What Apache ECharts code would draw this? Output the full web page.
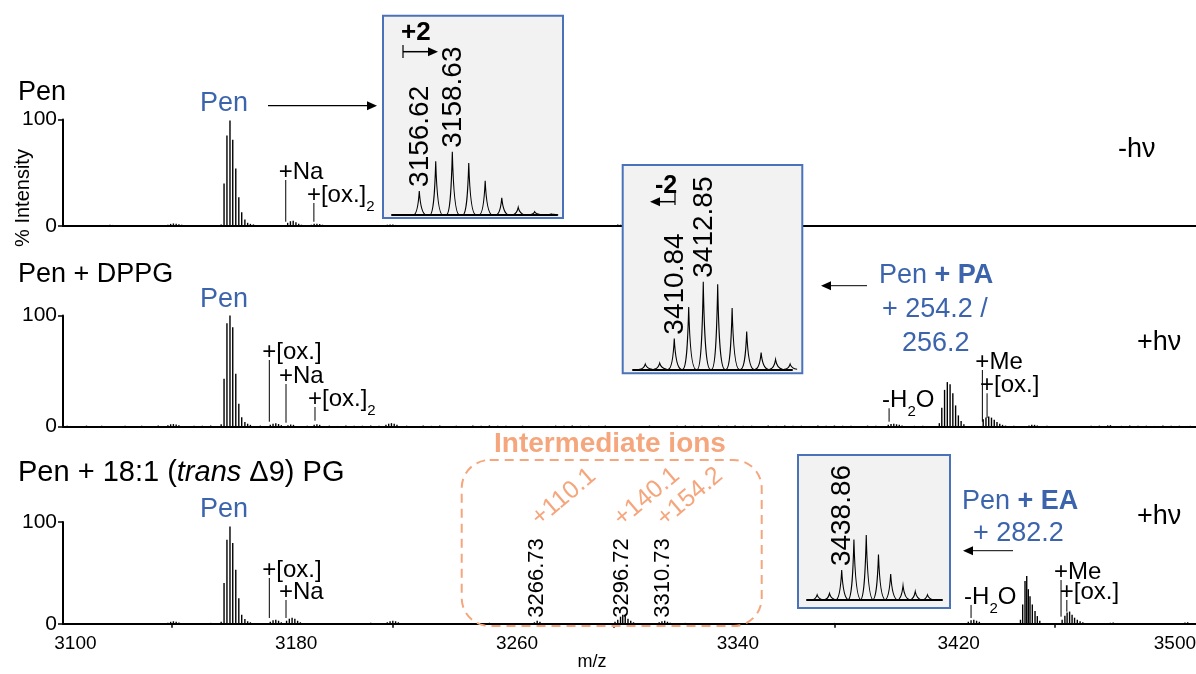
<!DOCTYPE html>
<html>
<head>
<meta charset="utf-8">
<script src="https://cdn.jsdelivr.net/npm/echarts@6/dist/echarts.min.js"></script>
<style>
  html, body { margin: 0; padding: 0; background: #fff; }
  #chart { width: 1196px; height: 674px; }
</style>
</head>
<body>
<div id="chart"></div>
<script>
// ---- data ----
const xTickLabels = [3100, 3180, 3260, 3340, 3420, 3500];
const xTickMarks = [3135, 3215, 3295, 3375, 3455];
const panelTitles = ['Pen', 'Pen + DPPG', 'Pen + 18:1 ({i|trans} Δ9) PG'];
const lightLabels = ['-hν', '+hν', '+hν'];

// small baseline noise shared by the three spectra [m/z, %]
const baselineNoise = [
  [3097, 0.6], [3101, 0.4], [3104, 0.8], [3107, 0.5], [3109.5, 0.7], [3118, 0.6], [3121, 0.4], [3124, 0.7],
  [3127, 0.5], [3130, 0.9], [3143, 0.6], [3146, 0.7], [3149, 0.9], [3167, 0.8], [3184, 0.7], [3192, 0.8],
  [3195, 0.5], [3198, 0.9], [3201, 0.6], [3204, 0.7], [3207, 1.0], [3210, 0.6], [3220, 0.7], [3223, 0.4],
  [3226, 0.8], [3229, 0.6], [3232, 0.9], [3235, 0.5], [3238, 0.7], [3241, 0.4], [3244, 0.8], [3247, 0.6],
  [3250, 1.0], [3253, 0.6], [3256, 0.7], [3259, 0.5], [3262, 0.8], [3271, 0.5], [3274, 0.8], [3277, 0.6],
  [3280, 0.9], [3283, 0.6], [3286, 0.7], [3289, 0.5], [3292, 0.8], [3305, 0.5], [3308, 0.8], [3318, 0.6],
  [3321, 0.9], [3324, 0.6], [3327, 0.7], [3330, 0.5], [3333, 0.8], [3336, 0.6], [3339, 0.9], [3342, 0.6],
  [3345, 0.7], [3348, 0.5], [3351, 0.8], [3354, 0.6], [3357, 0.9], [3360, 0.6], [3363, 0.7], [3366, 0.5],
  [3369, 0.8], [3372, 0.6], [3375, 0.9], [3378, 0.6], [3381, 0.7], [3384, 0.5], [3387, 0.8], [3390, 0.6],
  [3404, 0.6], [3407, 0.7], [3410, 0.5], [3437, 0.8], [3440, 0.6], [3452, 0.7], [3468, 0.6], [3471, 0.8],
  [3479, 0.6], [3482, 0.9], [3485, 0.6], [3488, 0.7], [3491, 0.5], [3494, 0.8], [3497, 0.6], [3500, 0.7], [3504, 0.6]
];

// panel 1: Pen, -hv
const peaksPen = [
  [3111.5, 0.8], [3112.5, 1.2], [3113.5, 1.0], [3114.5, 0.7],
  [3133.5, 1.2], [3134.5, 2.0], [3135.5, 2.4], [3136.5, 2.0], [3137.5, 1.6], [3138.5, 1.2], [3139.5, 0.8],
  [3152.8, 1.5], [3153.85, 40], [3154.9, 85], [3156.0, 99], [3157.0, 81], [3158.1, 54], [3159.2, 27],
  [3160.25, 13], [3161.4, 6], [3162.4, 3], [3163.4, 2], [3164.5, 1.5], [3165.5, 1],
  [3176.9, 3], [3177.9, 4.5], [3178.9, 5], [3179.9, 3.5], [3180.9, 2], [3181.9, 1.2],
  [3185.5, 1.2], [3186.5, 2], [3187.5, 2.2], [3188.5, 1.8], [3189.5, 1.2],
  [3213, 1.2], [3214, 1.5], [3215, 1.3], [3216, 1.0], [3295.5, 1.0], [3296.5, 1.4], [3297.5, 1.2]
];
// panel 2: Pen + DPPG, +hv
const peaksDPPG = [
  [3133.5, 1.2], [3134.5, 2], [3135.5, 2.2], [3136.5, 1.8], [3137.5, 1.2],
  [3152.8, 2], [3153.85, 43], [3154.9, 93], [3156.0, 100], [3157.0, 89.5], [3158.1, 47.5], [3159.2, 20.5],
  [3160.25, 8.4], [3161.4, 4], [3162.4, 2.5], [3163.4, 1.5],
  [3170.6, 1.5], [3171.6, 2.5], [3172.6, 3], [3173.6, 2.2], [3174.6, 1.2],
  [3177, 1.2], [3178, 1.8], [3179, 1.5], [3186.5, 1.5], [3187.5, 2], [3188.5, 1.5],
  [3212.5, 1.5], [3213.5, 2.5], [3214.5, 3], [3215.5, 2.5], [3216.5, 1.5],
  [3394.5, 1.5], [3395.5, 2.2], [3396.5, 2.5], [3397.5, 2], [3398.5, 1.5], [3399.5, 1],
  [3413.0, 3], [3413.9, 17], [3414.9, 33], [3415.9, 40], [3416.9, 38], [3417.9, 30], [3418.9, 19],
  [3419.9, 10], [3420.9, 5], [3421.9, 2],
  [3428.9, 6.6], [3429.9, 8], [3430.9, 9], [3431.9, 8], [3432.9, 6], [3433.9, 4], [3434.9, 2.5], [3435.9, 1.5],
  [3445.5, 1], [3446.5, 1.5], [3447.5, 1.5], [3448.5, 1], [3474, 1], [3475, 1.2]
];
// panel 3: Pen + 18:1 (trans d9) PG, +hv
const peaksTransPG = [
  [3133.5, 1], [3134.5, 2], [3135.5, 2.5], [3136.5, 2], [3137.5, 1.2],
  [3152.8, 2], [3153.85, 40], [3154.9, 82.5], [3156.0, 95.6], [3157.0, 79.3], [3158.1, 53], [3159.2, 25.2],
  [3160.25, 8.8], [3161.4, 4.6], [3162.4, 2.5], [3163.4, 1.5],
  [3170.6, 2], [3171.6, 3.5], [3172.6, 4], [3173.6, 3], [3174.6, 1.5],
  [3176.5, 3], [3177.5, 5], [3178.5, 6], [3179.5, 5], [3180.5, 3], [3181.5, 1.5],
  [3213, 1.5], [3214, 2.5], [3215, 3], [3216, 2.5], [3217, 1.5],
  [3266.3, 1.5], [3267.3, 3], [3268.3, 2],
  [3295.5, 2], [3296.5, 4], [3297.5, 7], [3298.3, 9], [3299.2, 8], [3300.2, 5], [3301.2, 3], [3302.2, 1.5],
  [3311.5, 1.5], [3312.5, 2.5], [3313.5, 3], [3314.5, 2], [3315.5, 1],
  [3423.5, 2], [3424.5, 3.5], [3425.5, 4], [3426.5, 3], [3427.5, 2],
  [3442.4, 4], [3443.2, 19], [3444.05, 42], [3444.67, 47], [3445.25, 34], [3445.86, 27], [3446.7, 19],
  [3447.68, 12.5], [3448.51, 7.6], [3449.4, 3],
  [3457.5, 4], [3458.5, 8], [3459.3, 11], [3460.2, 12], [3461.1, 9], [3462, 6], [3463, 4], [3464, 2.5], [3465, 1.5],
  [3475, 1], [3476, 1.2], [3502, 1.2], [3503, 1.5]
];

// labelled marker lines [m/z, from %, to %, label]
const annotPen = [
  [3176.2, 4, 43.2, '{n|+Na}'],
  [3186.4, 4, 21.6, '{n|+[ox.]}{s|2}']
];
const annotDPPG = [
  [3170.25, 4.3, 59.9, '{n|+[ox.]}'],
  [3176.3, 3.4, 38.3, '{n|+Na}'],
  [3186.8, 5.2, 17.6, '{n|+[ox.]}{s|2}'],
  [3394.8, 4.3, 16.4, '{n|-H}{s|2}{n|O}'],
  [3428.6, 4.3, 50.9, '{n|+Me}'],
  [3430.3, 7.7, 29.9, '{n|+[ox.]}']
];
const annotTransPG = [
  [3170.25, 5.7, 45, '{n|+[ox.]}'],
  [3176.3, 5.7, 23.4, '{n|+Na}'],
  [3424.5, 5.7, 18.5, '{n|-H}{s|2}{n|O}'],
  [3457.1, 7, 43, '{n|+Me}'],
  [3459.2, 11.9, 23.4, '{n|+[ox.]}']
];

// intermediate ions in panel 3
const ionPositions = [3267.3, 3297.9, 3312.8];
const ionMasses = ['3266.73', '3296.72', '3310.73'];
const ionShifts = ['+110.1', '+140.1', '+154.2'];

// zoomed isotope envelopes [m/z, relative %]
const insetPen = [
  [3156.62, 38], [3157.62, 85], [3158.63, 100], [3159.63, 82], [3160.63, 54],
  [3161.64, 27], [3162.64, 12], [3163.64, 5], [3164.65, 1.6]
];
const insetPenLabels = [3156.62, 3158.63];
const insetPA = [
  [3408.83, 6], [3409.83, 7], [3410.84, 35], [3411.84, 71], [3412.85, 100], [3413.85, 97],
  [3414.85, 70], [3415.86, 43], [3416.86, 19], [3417.86, 11], [3418.87, 6]
];
const insetPALabels = [3410.84, 3412.85];
const insetEA = [
  [3436.85, 8], [3437.86, 10], [3438.86, 46], [3439.86, 93], [3440.87, 100], [3441.87, 70],
  [3442.87, 40], [3443.88, 22], [3444.88, 13], [3445.88, 8]
];
const insetEALabels = [3438.86];

// ---- drawing ----
const FONT = '"Liberation Sans", Arial, sans-serif';
const BLUE = '#3B64AD';
const ORANGE = '#F5A67D';
const FRAME = '#4A72B8';

const chart = echarts.init(document.getElementById('chart'), null, { renderer: 'canvas' });

const annotRich = {
  n: { fontSize: 24, fontFamily: FONT, lineHeight: 38, fill: '#000' },
  s: { fontSize: 15, fontFamily: FONT, lineHeight: 22, verticalAlign: 'bottom', fill: '#000' }
};

function stickItem(params, api) {
  const top = api.coord([api.value(0), api.value(1)]);
  const base = api.coord([api.value(0), 0]);
  return {
    type: 'line',
    shape: { x1: top[0], y1: base[1], x2: top[0], y2: top[1] },
    style: { stroke: '#000', lineWidth: 1.4 }
  };
}

function annotRender(list) {
  return function (params, api) {
    const a = list[params.dataIndex];
    const lo = api.coord([a[0], a[1]]);
    const hi = api.coord([a[0], a[2]]);
    return {
      type: 'group',
      children: [
        { type: 'line', shape: { x1: lo[0], y1: lo[1], x2: hi[0], y2: hi[1] }, style: { stroke: '#000', lineWidth: 1 } },
        {
          type: 'text', x: hi[0] - 7, y: hi[1] - 8,
          style: { text: a[3], rich: annotRich, fontSize: 24, fontFamily: FONT, fill: '#000',
                   align: 'left', verticalAlign: 'middle', textAlign: 'left', textVerticalAlign: 'middle' }
        }
      ]
    };
  };
}

function profileRender(labels) {
  return function (params, api) {
    const mz = api.value(0);
    const apex = api.coord([mz, api.value(1)]);
    const base = api.coord([mz, 0]);
    const ax = apex[0], ay = apex[1], y0 = base[1], h = y0 - ay;
    const d = 'M' + (ax - 6) + ' ' + y0 +
      ' C' + (ax - 1.8) + ' ' + (y0 - 0.3) + ' ' + (ax - 0.7) + ' ' + (ay + h * 0.45) + ' ' + ax + ' ' + ay +
      ' C' + (ax + 0.8) + ' ' + (ay + h * 0.5) + ' ' + (ax + 2.2) + ' ' + (y0 - 0.8) + ' ' + (ax + 7) + ' ' + y0;
    const children = [{ type: 'path', shape: { pathData: d }, style: { stroke: '#000', lineWidth: 1.1, fill: 'none' } }];
    if (labels.indexOf(mz) >= 0) {
      children.push({
        type: 'text', x: ax + 1, y: ay - 4, rotation: Math.PI / 2,
        style: { text: mz.toFixed(2), fontSize: 28, fontFamily: FONT, fill: '#000',
                 align: 'left', verticalAlign: 'middle', textAlign: 'left', textVerticalAlign: 'middle' }
      });
    }
    return { type: 'group', children: children };
  };
}

function ionRender(params, api) {
  const p = api.coord([api.value(0), 6]);
  return {
    type: 'text', x: p[0], y: p[1], rotation: Math.PI / 2,
    style: { text: ionMasses[params.dataIndex], fontSize: 22, fontFamily: FONT, fill: '#000',
             align: 'left', verticalAlign: 'middle', textAlign: 'left', textVerticalAlign: 'middle' }
  };
}

function txt(x, y, text, o) {
  o = o || {};
  return {
    type: 'text', x: x, y: y, z: 15, rotation: o.rotation || 0,
    style: {
      text: text, fill: o.color || '#000', fontSize: o.size || 27, fontFamily: FONT,
      fontWeight: o.weight || 'normal', rich: o.rich,
      align: o.align || 'left', verticalAlign: o.va || 'middle',
      textAlign: o.align || 'left', textVerticalAlign: o.va || 'middle'
    }
  };
}

function arrow(x1, x2, y, headLeft, w) {
  const hx = headLeft ? x1 : x2;
  const dir = headLeft ? 1 : -1;
  return [
    { type: 'line', z: 15, shape: { x1: x1 + (headLeft ? 5 : 0), y1: y, x2: x2 - (headLeft ? 0 : 5), y2: y },
      style: { stroke: '#000', lineWidth: w || 1.2 } },
    { type: 'polygon', z: 15, shape: { points: [[hx, y], [hx + dir * 10, y - 4.5], [hx + dir * 10, y + 4.5]] },
      style: { fill: '#000' } }
  ];
}

const AX_MIN = 3095.5, AX_MAX = 3506;
const panelGrids = [
  { left: 63, width: 1133, top: 119.5, height: 106.5 },
  { left: 63, width: 1133, top: 315.5, height: 111 },
  { left: 63, width: 1133, top: 522, height: 101.8 }
];
const insetGrids = [
  { left: 392, width: 165, top: 151.7, height: 63.3, min: 3154.96, max: 3165.0 },
  { left: 633, width: 159, top: 281.7, height: 87.6, min: 3407.98, max: 3419.0 },
  { left: 807, width: 135, top: 535, height: 65, min: 3436.02, max: 3447.07 }
];

const grid = [], xAxis = [], yAxis = [];
panelGrids.forEach(function (g, i) {
  grid.push({ left: g.left, width: g.width, top: g.top, height: g.height, outerBoundsMode: 'none' });
  xAxis.push({
    type: 'value', gridIndex: i, min: AX_MIN, max: AX_MAX,
    axisLine: { show: true, onZero: true, lineStyle: { color: '#000', width: 2 } },
    axisTick: i === 2 ? { show: true, customValues: xTickMarks, length: 4, lineStyle: { color: '#000', width: 1.5 } } : { show: false },
    axisLabel: i === 2 ? {
      show: true, customValues: xTickLabels, fontSize: 19, fontFamily: FONT, color: '#000', margin: 10,
      // last label is nudged left so it stays inside the canvas
      formatter: function (v) { return v === xTickLabels[xTickLabels.length - 1] ? '{r|' + v + '}' : String(v); },
      rich: { r: { fontSize: 19, fontFamily: FONT, color: '#000', padding: [0, 9, 0, 0] } }
    } : { show: false },
    splitLine: { show: false }
  });
  yAxis.push({
    type: 'value', gridIndex: i, min: 0, max: 100, interval: 100,
    axisLine: { show: true, lineStyle: { color: '#000', width: 2 } },
    axisTick: { show: true, length: 5, lineStyle: { color: '#000', width: 1.5 } },
    axisLabel: { fontSize: 21, fontFamily: FONT, color: '#000', margin: 6 },
    splitLine: { show: false }
  });
});
insetGrids.forEach(function (g, k) {
  const i = k + 3;
  grid.push({ left: g.left, width: g.width, top: g.top, height: g.height, outerBoundsMode: 'none' });
  xAxis.push({
    type: 'value', gridIndex: i, min: g.min, max: g.max, z: 12,
    axisLine: { show: true, onZero: true, lineStyle: { color: '#000', width: 2 } },
    axisTick: { show: false }, axisLabel: { show: false }, splitLine: { show: false }
  });
  yAxis.push({ type: 'value', gridIndex: i, min: 0, max: 100, show: false });
});

const series = [];
[peaksPen, peaksDPPG, peaksTransPG].forEach(function (pk, i) {
  series.push({
    type: 'custom', xAxisIndex: i, yAxisIndex: i, z: 2, silent: true,
    renderItem: stickItem, encode: { x: 0, y: 1 },
    data: baselineNoise.concat(pk)
  });
});
[annotPen, annotDPPG, annotTransPG].forEach(function (an, i) {
  series.push({
    type: 'custom', xAxisIndex: i, yAxisIndex: i, z: 3, silent: true,
    renderItem: annotRender(an), encode: { x: 0, y: 1 },
    data: an.map(function (a) { return [a[0], a[1], a[2]]; })
  });
});
series.push({
  type: 'custom', xAxisIndex: 2, yAxisIndex: 2, z: 3, silent: true,
  renderItem: ionRender, encode: { x: 0 },
  data: ionPositions.map(function (m) { return [m]; })
});
[[insetPen, insetPenLabels], [insetPA, insetPALabels], [insetEA, insetEALabels]].forEach(function (p, k) {
  series.push({
    type: 'custom', xAxisIndex: k + 3, yAxisIndex: k + 3, z: 12, silent: true,
    renderItem: profileRender(p[1]), encode: { x: 0, y: 1 },
    data: p[0]
  });
});

const boldRich = {
  n: { fontSize: 27, fontFamily: FONT, fill: BLUE },
  b: { fontSize: 27, fontFamily: FONT, fill: BLUE, fontWeight: 'bold' }
};
const titleRich = {
  i: { fontSize: 29, fontFamily: FONT, fontStyle: 'italic', fill: '#000' }
};

const elements = [
  // inset frames
  { type: 'rect', z: 10, shape: { x: 383, y: 15.7, width: 180, height: 202.3 }, style: { fill: '#F2F2F2', stroke: FRAME, lineWidth: 2 } },
  { type: 'rect', z: 10, shape: { x: 622.7, y: 165, width: 179.6, height: 208.3 }, style: { fill: '#F2F2F2', stroke: FRAME, lineWidth: 2 } },
  { type: 'rect', z: 10, shape: { x: 798, y: 455, width: 152, height: 153 }, style: { fill: '#F2F2F2', stroke: FRAME, lineWidth: 2 } },
  // intermediate ion box
  { type: 'rect', z: 1, shape: { x: 461.7, y: 460, width: 300, height: 166, r: 28 },
    style: { fill: 'none', stroke: ORANGE, lineWidth: 2, lineDash: [9, 6] } },
  txt(610, 444, 'Intermediate ions', { color: ORANGE, weight: 'bold', size: 28, align: 'center' }),
  txt(23, 198, '% Intensity', { size: 20, align: 'center', rotation: Math.PI / 2 }),
  txt(592, 662, 'm/z', { size: 18, align: 'center' }),
  // panel titles and light labels
  txt(18, 93, panelTitles[0]),
  txt(18, 275, panelTitles[1]),
  txt(18, 473, panelTitles[2], { rich: titleRich, size: 29 }),
  txt(1118, 150, lightLabels[0]),
  txt(1137, 343, lightLabels[1]),
  txt(1137, 517, lightLabels[2]),
  txt(200, 104, 'Pen', { color: BLUE }),
  txt(200, 300, 'Pen', { color: BLUE }),
  txt(200, 510, 'Pen', { color: BLUE }),
  // lipid adduct labels
  txt(879, 276, '{n|Pen }{b|+ PA}', { rich: boldRich, color: BLUE }),
  txt(882, 310, '+ 254.2 /', { color: BLUE }),
  txt(902, 344, '256.2', { color: BLUE }),
  txt(962, 502, '{n|Pen }{b|+ EA}', { rich: boldRich, color: BLUE }),
  txt(973, 534, '+ 282.2', { color: BLUE }),
  // charge shifts
  txt(401, 33, '+2', { weight: 'bold', size: 26 }),
  txt(655, 186, '-2', { weight: 'bold', size: 25 }),
  { type: 'line', z: 15, shape: { x1: 675, y1: 192, x2: 675, y2: 205 }, style: { stroke: '#000', lineWidth: 1.2 } },
  { type: 'line', z: 15, shape: { x1: 403, y1: 45, x2: 403, y2: 58 }, style: { stroke: '#000', lineWidth: 1.2 } }
];
ionShifts.forEach(function (s, k) {
  const cx = [564, 647, 690][k];
  elements.push(txt(cx, 497, s, { color: ORANGE, size: 25, align: 'center', rotation: 40 * Math.PI / 180 }));
});
[].concat(
  arrow(268, 377, 105.7, false, 1.2),
  arrow(403, 438, 51.7, false, 1.5),
  arrow(650, 675, 201.7, true, 1.5),
  arrow(821, 867, 285.7, true, 1),
  arrow(963, 1013, 550.7, true, 1)
).forEach(function (e) { elements.push(e); });

chart.setOption({
  animation: false,
  backgroundColor: '#fff',
  grid: grid,
  xAxis: xAxis,
  yAxis: yAxis,
  series: series,
  graphic: { elements: elements }
});
</script>
</body>
</html>
